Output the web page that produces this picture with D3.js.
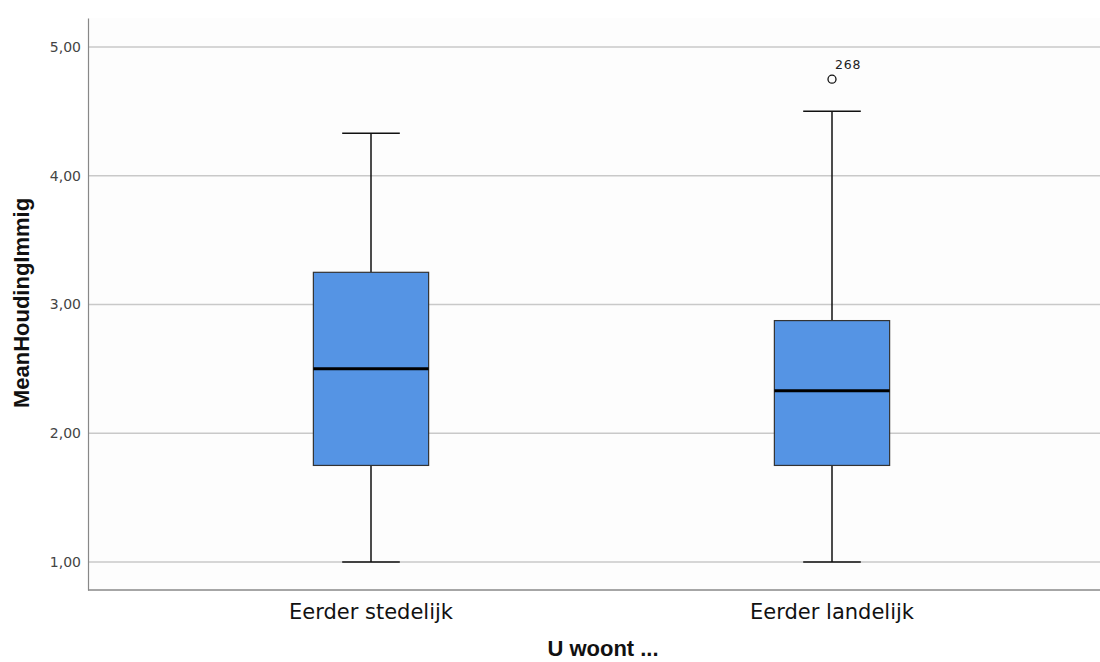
<!DOCTYPE html>
<html><head><meta charset="utf-8">
<script src="https://cdn.jsdelivr.net/npm/d3@7"></script>
<style>body{margin:0;background:#fff}svg{display:block}</style>
</head><body>
<svg id="c" width="1100" height="662"></svg>
<script>
const categories = ["Eerder stedelijk", "Eerder landelijk"];
const whiskerLow = [1.00, 1.00];
const q1 = [1.75, 1.75];
const median = [2.50, 2.33];
const q3 = [3.25, 2.875];
const whiskerHigh = [4.33, 4.50];
const outlierValues = [[], [4.75]];
const outlierLabels = [[], ["268"]];
const yTicks = [1, 2, 3, 4, 5];

(function () {
const svg = d3.select("#c");
const pLeft = 88, pRight = 1100, pTop = 18, pBottom = 590;

const y = d3.scaleLinear().domain([0.7825, 5.2252]).range([pBottom, pTop]);
const x = d3.scaleBand().domain(categories).range([140.5, 1062.5]).paddingInner(0).paddingOuter(0);

svg.append("rect").attr("x", pLeft).attr("y", pTop).attr("width", pRight - pLeft).attr("height", pBottom - pTop).attr("fill", "#fdfdfd");

// gridlines
svg.append("g").selectAll("line").data(yTicks).join("line")
  .attr("x1", pLeft).attr("x2", pRight)
  .attr("y1", d => y(d)).attr("y2", d => y(d))
  .attr("stroke", "#c9c9c9").attr("stroke-width", 1.5);

// y axis
const fmt = d => d3.format(".2f")(d).replace(".", ",");
const yAxis = svg.append("g").attr("transform", `translate(${pLeft},0)`)
  .call(d3.axisLeft(y).tickValues(yTicks).tickFormat(fmt).tickSize(0).tickPadding(7));
yAxis.select(".domain").attr("stroke", "#888").attr("stroke-width", 1.2);
yAxis.selectAll("text").attr("font-family", "DejaVu Sans").attr("font-size", 14).attr("fill", "#444");

// x axis
const xAxis = svg.append("g").attr("transform", `translate(0,${pBottom})`)
  .call(d3.axisBottom(x).tickSize(0).tickPadding(0));
xAxis.select(".domain").remove();
xAxis.selectAll("text").attr("dy", null).attr("y", 29)
  .attr("font-family", "DejaVu Sans").attr("font-size", 21).attr("fill", "#111");
svg.append("line").attr("x1", pLeft).attr("x2", pRight).attr("y1", pBottom).attr("y2", pBottom)
  .attr("stroke", "#888").attr("stroke-width", 1.5);

// titles
svg.append("text").attr("x", 603).attr("y", 656).attr("text-anchor", "middle")
  .attr("font-family", "Liberation Sans, Arial").attr("font-weight", "bold").attr("font-size", 22)
  .attr("fill", "#111").text("U woont ...");
svg.append("text").attr("transform", "translate(29,303) rotate(-90)").attr("text-anchor", "middle")
  .attr("font-family", "Liberation Sans, Arial").attr("font-weight", "bold").attr("font-size", 22)
  .attr("fill", "#111").text("MeanHoudingImmig");

// boxes
const bw = x.bandwidth() * 0.25;
const g = svg.append("g").selectAll("g").data(categories).join("g")
  .attr("transform", c => `translate(${x(c) + x.bandwidth() / 2},0)`);

g.append("line").attr("x1", 0).attr("x2", 0)
  .attr("y1", (c, i) => y(whiskerHigh[i])).attr("y2", (c, i) => y(q3[i]))
  .attr("stroke", "#111").attr("stroke-width", 1.5);
g.append("line").attr("x1", 0).attr("x2", 0)
  .attr("y1", (c, i) => y(q1[i])).attr("y2", (c, i) => y(whiskerLow[i]))
  .attr("stroke", "#111").attr("stroke-width", 1.5);
g.append("line").attr("x1", -bw / 4).attr("x2", bw / 4)
  .attr("y1", (c, i) => y(whiskerHigh[i])).attr("y2", (c, i) => y(whiskerHigh[i]))
  .attr("stroke", "#111").attr("stroke-width", 1.5);
g.append("line").attr("x1", -bw / 4).attr("x2", bw / 4)
  .attr("y1", (c, i) => y(whiskerLow[i])).attr("y2", (c, i) => y(whiskerLow[i]))
  .attr("stroke", "#111").attr("stroke-width", 1.5);
g.append("rect").attr("x", -bw / 2).attr("width", bw)
  .attr("y", (c, i) => y(q3[i])).attr("height", (c, i) => y(q1[i]) - y(q3[i]))
  .attr("fill", "#5594e4").attr("stroke", "#333").attr("stroke-width", 1.2);
g.append("line").attr("x1", -bw / 2).attr("x2", bw / 2)
  .attr("y1", (c, i) => y(median[i])).attr("y2", (c, i) => y(median[i]))
  .attr("stroke", "#000").attr("stroke-width", 3);

g.each(function (c, i) {
  const sel = d3.select(this);
  outlierValues[i].forEach((v, j) => {
    sel.append("circle").attr("cx", 0).attr("cy", y(v)).attr("r", 4)
      .attr("fill", "none").attr("stroke", "#111").attr("stroke-width", 1.3);
    sel.append("text").attr("x", 3).attr("y", y(v) - 10)
      .attr("font-family", "DejaVu Sans").attr("font-size", 12.5).attr("fill", "#222")
      .attr("letter-spacing", 0.8).text(outlierLabels[i][j]);
  });
});
})();
</script>
</body></html>
